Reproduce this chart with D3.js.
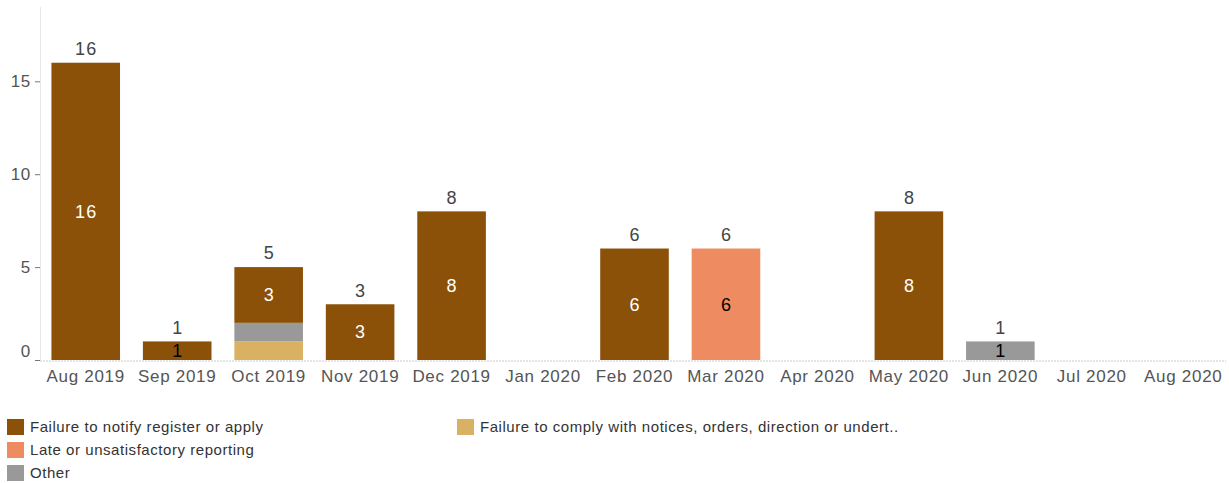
<!doctype HTML>
<meta charset="utf-8">
<title>Breaches by month</title>

<style>
body {
  margin: 0px;
  background: #fff;
}
svg text {
  font-family: "Liberation Sans", Arial, sans-serif;
}
.axis text {
  fill: #555;
  font-size: 17px;
  letter-spacing: 0.7px;
}
.total {
  fill: #444;
  font-size: 18px;
  letter-spacing: 1.2px;
}
.inner {
  font-size: 18px;
  letter-spacing: 1.2px;
}
.legend text {
  fill: #333;
  font-size: 15px;
  letter-spacing: 0.55px;
}
</style>

<script src="https://d3js.org/d3.v7.min.js"></script>

<body>
<script>
var width = 1229, height = 483;

// data
var months = ["Aug 2019", "Sep 2019", "Oct 2019", "Nov 2019", "Dec 2019", "Jan 2020",
  "Feb 2020", "Mar 2020", "Apr 2020", "May 2020", "Jun 2020", "Jul 2020", "Aug 2020"];
var notify  = [16, 1, 3, 3, 8, 0, 6, 0, 0, 8, 0, 0, 0];
var comply  = [0, 0, 1, 0, 0, 0, 0, 0, 0, 0, 0, 0, 0];
var late    = [0, 0, 0, 0, 0, 0, 0, 6, 0, 0, 0, 0, 0];
var other   = [0, 0, 1, 0, 0, 0, 0, 0, 0, 0, 1, 0, 0];
var yTicks = [0, 5, 10, 15];

var series = [
  {key: "comply", name: "Failure to comply with notices, orders, direction or undert..", color: "#dab063", values: comply, text: "#000"},
  {key: "other",  name: "Other", color: "#999999", values: other, text: "#000"},
  {key: "late",   name: "Late or unsatisfactory reporting", color: "#ef8b61", values: late, text: "#000"},
  {key: "notify", name: "Failure to notify register or apply", color: "#8b5109", values: notify, text: "#fff"}
];
var legendOrder = ["notify", "late", "other", "comply"];

var table = months.map(function(m, i) {
  var row = {month: m};
  series.forEach(function(s) { row[s.key] = s.values[i]; });
  return row;
});
var totals = months.map(function(m, i) {
  return d3.sum(series, function(s) { return s.values[i]; });
});

var svg = d3.select("body").append("svg")
    .attr("width", width)
    .attr("height", height);

var x = d3.scaleBand()
    .domain(months)
    .range([40, 1229])
    .paddingInner(0.25)
    .paddingOuter(0.125);

var y = d3.scaleLinear()
    .domain([0, 19])
    .range([360, 7]);

// baseline
svg.append("line")
    .attr("x1", 40).attr("x2", 1226)
    .attr("y1", y(0) + 1).attr("y2", y(0) + 1)
    .attr("stroke", "#ddd")
    .attr("stroke-width", 1.5)
    .attr("stroke-dasharray", "2,1");

var yAxis = svg.append("g")
    .attr("class", "axis")
    .attr("transform", "translate(40,0)")
    .call(d3.axisLeft(y).tickValues(yTicks).tickSize(5).tickPadding(4));
yAxis.select(".domain").attr("stroke", "#e6e6e6").attr("d", "M0.5,7V360");
yAxis.selectAll(".tick line").attr("stroke", "#777");
yAxis.selectAll(".tick text").filter(function(d) { return d === 0; }).attr("dy", "-0.2em");

var xAxis = svg.append("g")
    .attr("class", "axis")
    .attr("transform", "translate(0," + y(0) + ")")
    .call(d3.axisBottom(x).tickSize(0).tickPadding(10));
xAxis.select(".domain").remove();

var stack = d3.stack().keys(series.map(function(s) { return s.key; }));
var stacked = stack(table);

var layers = svg.selectAll("g.layer")
    .data(stacked)
  .enter().append("g")
    .attr("class", "layer")
    .attr("fill", function(d, i) { return series[i].color; });

layers.selectAll("rect")
    .data(function(d) { return d; })
  .enter().append("rect")
    .attr("x", function(d) { return x(d.data.month); })
    .attr("width", x.bandwidth())
    .attr("y", function(d) { return y(d[1]); })
    .attr("height", function(d) { return y(d[0]) - y(d[1]); });

// label only the top segment of each bar; dark text if it does not fit
stacked.forEach(function(layer, i) {
  var s = series[i];
  svg.append("g").selectAll("text")
      .data(layer.filter(function(d, j) { return d[1] - d[0] > 0 && d[1] === totals[j]; }))
    .enter().append("text")
      .attr("class", "inner")
      .attr("x", function(d) { return x(d.data.month) + x.bandwidth() / 2 + 0.6; })
      .attr("y", function(d) { return (y(d[0]) + y(d[1])) / 2; })
      .attr("dy", "0.35em")
      .attr("text-anchor", "middle")
      .attr("fill", function(d) { return y(d[0]) - y(d[1]) < 20 ? "#000" : s.text; })
      .text(function(d) { return d[1] - d[0]; });
});

// totals above bars
svg.append("g").selectAll("text")
    .data(months.filter(function(m, i) { return totals[i] > 0; }))
  .enter().append("text")
    .attr("class", "total")
    .attr("x", function(m) { return x(m) + x.bandwidth() / 2 + 0.6; })
    .attr("y", function(m) { return y(totals[months.indexOf(m)]) - 14; })
    .attr("dy", "0.35em")
    .attr("text-anchor", "middle")
    .text(function(m) { return totals[months.indexOf(m)]; });

// legend
var legendPos = {notify: [7, 419], late: [7, 442], other: [7, 465], comply: [457, 419]};
var legend = svg.append("g").attr("class", "legend");
var items = legend.selectAll("g")
    .data(legendOrder.map(function(k) { return series.find(function(s) { return s.key === k; }); }))
  .enter().append("g")
    .attr("transform", function(s) { return "translate(" + legendPos[s.key][0] + "," + legendPos[s.key][1] + ")"; });
items.append("rect")
    .attr("width", 17).attr("height", 16)
    .attr("fill", function(s) { return s.color; });
items.append("text")
    .attr("x", 23).attr("y", 8)
    .attr("dy", "0.35em")
    .text(function(s) { return s.name; });
</script>
